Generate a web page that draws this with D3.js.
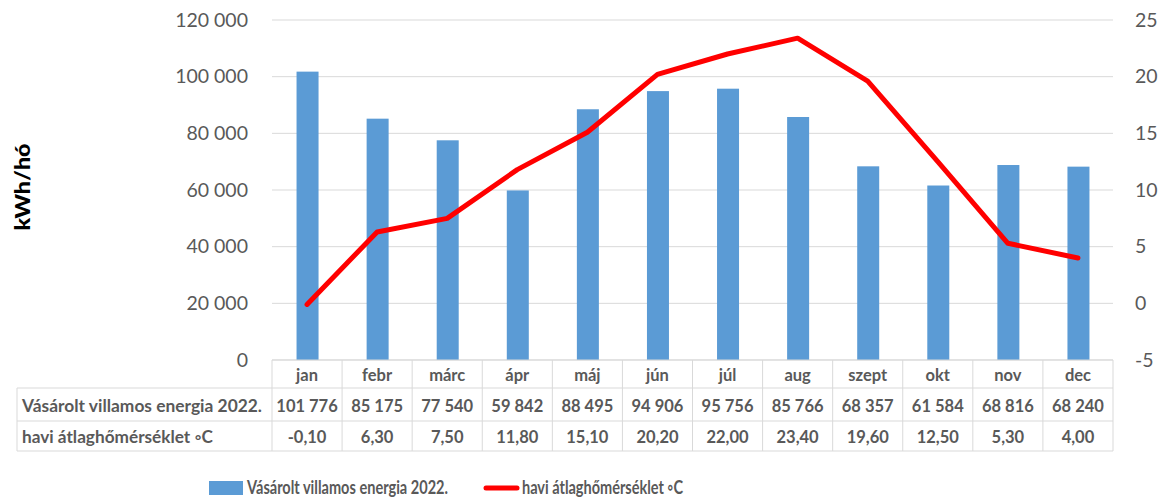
<!DOCTYPE html>
<html><head><meta charset="utf-8">
<script src="https://cdn.jsdelivr.net/npm/d3@7"></script>
<style>body{margin:0;background:#fff}svg{display:block}</style>
</head><body>
<svg id="c" width="1167" height="499"></svg>
<script>
const months = ["jan","febr","márc","ápr","máj","jún","júl","aug","szept","okt","nov","dec"];
const energy = [101776,85175,77540,59842,88495,94906,95756,85766,68357,61584,68816,68240];
const temps = [-0.10,6.30,7.50,11.80,15.10,20.20,22.00,23.40,19.60,12.50,5.30,4.00];
const leftTicks = [0,20000,40000,60000,80000,100000,120000];
const rightTicks = [-5,0,5,10,15,20,25];
const seriesNames = ["Vásárolt villamos energia 2022.","havi átlaghőmérséklet ◦C"];
const yTitle = "kWh/hó";

const svg = d3.select("#c");
const font = "Lato, 'Open Sans', sans-serif";
const L = 272, R = 1113, T = 20, B = 360;
const x = d3.scaleBand().domain(months).range([L, R]);
const yL = d3.scaleLinear().domain([0,120000]).range([B, T]);
const yR = d3.scaleLinear().domain([-5,25]).range([B, T]);
const fmtN = d => d3.format(",")(d).replace(/,/g, " ");
const fmtT = d => d.toFixed(2).replace(".", ",").replace("−", "-");

// gridlines
svg.append("g").selectAll("line").data(leftTicks).join("line")
  .attr("x1", L).attr("x2", R).attr("y1", d=>yL(d)).attr("y2", d=>yL(d))
  .attr("stroke", "#d9d9d9").attr("stroke-width", 1);

// left axis labels
const axL = d3.axisLeft(yL).tickValues(leftTicks).tickFormat(fmtN).tickSize(0).tickPadding(0);
const gL = svg.append("g").attr("transform", `translate(${L-24},0)`).call(axL);
gL.select(".domain").remove();
gL.selectAll("text").attr("font-family", font).attr("font-size", 19.5).attr("fill", "#595959");

const axR = d3.axisRight(yR).tickValues(rightTicks).tickFormat(d => String(d)).tickSize(0).tickPadding(0);
const gR = svg.append("g").attr("transform", `translate(${R+22},0)`).call(axR);
gR.select(".domain").remove();
gR.selectAll("text").attr("font-family", font).attr("font-size", 19.5).attr("fill", "#595959");

// bars
const bw = 22;
svg.append("g").selectAll("rect").data(energy).join("rect")
  .attr("x", (d,i)=>x(months[i]) + x.bandwidth()/2 - bw/2 + 0.5)
  .attr("width", bw)
  .attr("y", d=>yL(d)).attr("height", d=>B - yL(d))
  .attr("fill", "#5b9bd5");

// line
const line = d3.line().x((d,i)=>x(months[i]) + x.bandwidth()/2).y(d=>yR(d));
svg.append("path").datum(temps).attr("d", line)
  .attr("fill", "none").attr("stroke", "#ff0000").attr("stroke-width", 5)
  .attr("stroke-linejoin", "round").attr("stroke-linecap", "round");

// table
const tb = svg.append("g");
const border = "#d9d9d9";
const rows = [B, 388, 421, 451];
const TL = 17;
tb.append("line").attr("x1", L).attr("x2", R).attr("y1", rows[0]).attr("y2", rows[0]).attr("stroke", border);
[1,2,3].forEach(r => tb.append("line").attr("x1", TL).attr("x2", R).attr("y1", rows[r]).attr("y2", rows[r]).attr("stroke", border));
const vx = months.map(m => x(m)).concat([R]);
tb.selectAll("line.v").data(vx).join("line").attr("class","v")
  .attr("x1", d=>d).attr("x2", d=>d).attr("y1", rows[0]).attr("y2", rows[3]).attr("stroke", border);
tb.append("line").attr("x1", TL).attr("x2", TL).attr("y1", rows[1]).attr("y2", rows[3]).attr("stroke", border);

const cell = (txt, cx, cy, anchor, len) => {
  const t = tb.append("text").text(txt).attr("x", cx).attr("y", cy)
    .attr("text-anchor", anchor).attr("dominant-baseline", "central")
    .attr("font-family", font).attr("font-size", 16.5).attr("font-weight", "bold").attr("fill", "#595959");
  if (len) t.attr("textLength", len).attr("lengthAdjust", "spacingAndGlyphs");
};
months.forEach((m,i) => {
  const cx = x(m) + x.bandwidth()/2;
  cell(m, cx, (rows[0]+rows[1])/2 + 1, "middle");
  cell(fmtN(energy[i]), cx, (rows[1]+rows[2])/2 + 1, "middle");
  cell(fmtT(temps[i]), cx, (rows[2]+rows[3])/2 + 1, "middle");
});
cell(seriesNames[0], 22, (rows[1]+rows[2])/2 + 1, "start", 240);
cell(seriesNames[1], 22, (rows[2]+rows[3])/2 + 1, "start", 191);

// y title
svg.append("text").text(yTitle).attr("transform", "translate(30,187) rotate(-90)")
  .attr("text-anchor", "middle").attr("font-family", font).attr("font-size", 21)
  .attr("font-weight", "900").attr("fill", "#000")
  .attr("textLength", 87).attr("lengthAdjust", "spacingAndGlyphs");

// legend
const lg = svg.append("g");
lg.append("rect").attr("x", 209).attr("y", 481).attr("width", 34).attr("height", 14).attr("fill", "#5b9bd5");
lg.append("text").text(seriesNames[0]).attr("x", 247).attr("y", 494).attr("dominant-baseline", "alphabetic")
  .attr("font-family", font).attr("font-size", 19).attr("font-weight", "bold").attr("fill", "#595959")
  .attr("textLength", 201).attr("lengthAdjust", "spacingAndGlyphs");
lg.append("line").attr("x1", 486).attr("x2", 517).attr("y1", 488).attr("y2", 488)
  .attr("stroke", "#ff0000").attr("stroke-width", 5).attr("stroke-linecap", "round");
lg.append("text").text(seriesNames[1]).attr("x", 522).attr("y", 494).attr("dominant-baseline", "alphabetic")
  .attr("font-family", font).attr("font-size", 19).attr("font-weight", "bold").attr("fill", "#595959")
  .attr("textLength", 161).attr("lengthAdjust", "spacingAndGlyphs");
</script>
</body></html>
